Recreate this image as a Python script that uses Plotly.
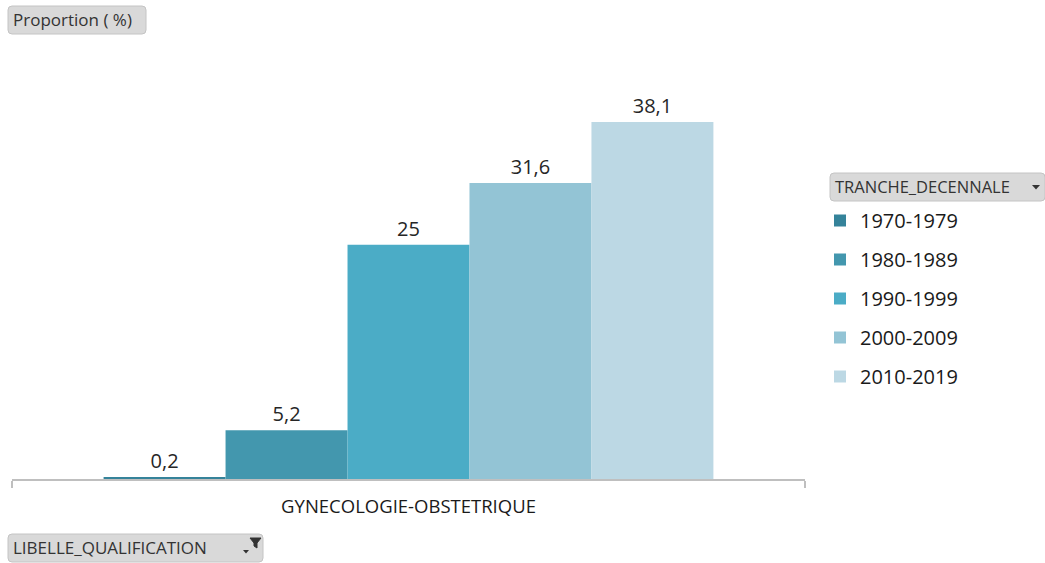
import plotly.graph_objects as go

# Data
categories = ["GYNECOLOGIE-OBSTETRIQUE"]
decades = ["1970-1979", "1980-1989", "1990-1999", "2000-2009", "2010-2019"]
proportions = [0.2, 5.2, 25, 31.6, 38.1]
colors = ["#35839A", "#4397AE", "#4BACC6", "#93C4D5", "#BCD8E4"]

W, H = 1045, 563
ML, MR, MT, MB = 12, 240, 60, 84
PW, PH = W - ML - MR, H - MT - MB
FONT = "Open Sans, Liberation Sans, sans-serif"


def px(x):
    return (x - ML) / PW


def py(y):
    return (H - MB - y) / PH


fig = go.Figure()
for name, val, col in zip(decades, proportions, colors):
    fig.add_trace(go.Bar(
        x=categories, y=[val], name=name,
        marker=dict(color=col, line=dict(width=0)),
        texttemplate="%{y}", textposition="outside",
        textfont=dict(size=20, color="#262626", family=FONT),
        cliponaxis=False,
        legendgroup=name,
    ))

fig.update_layout(
    width=W, height=H,
    barmode="group", bargap=0.231, bargroupgap=0,
    separators=", ",
    paper_bgcolor="white", plot_bgcolor="white",
    margin=dict(l=ML, r=MR, t=MT, b=MB),
    font=dict(family=FONT, color="#262626"),
    showlegend=True,
    legend=dict(
        x=px(820), xanchor="left", xref="paper",
        y=py(201), yanchor="top",
        font=dict(size=20, color="#1a1a1a", family=FONT),
        traceorder="grouped", tracegroupgap=10,
        itemwidth=30, bgcolor="rgba(0,0,0,0)",
    ),
    xaxis=dict(
        range=[-0.5, 0.5], showline=True, linecolor="#BFBFBF", linewidth=1.5,
        ticks="outside", tickson="boundaries", ticklen=7, tickcolor="#BFBFBF",
        tickwidth=1.5, tickfont=dict(size=18.5, color="#1a1a1a", family=FONT),
        ticklabelstandoff=10,
        showgrid=False, zeroline=False, fixedrange=True,
    ),
    yaxis=dict(range=[0, PH / 9.37], visible=False, showgrid=False,
               zeroline=False, fixedrange=True),
)


def rounded_path(x0, y0, x1, y1, r=4):
    pts = [
        f"M {px(x0 + r)},{py(y0)}",
        f"L {px(x1 - r)},{py(y0)}",
        f"Q {px(x1)},{py(y0)} {px(x1)},{py(y0 + r)}",
        f"L {px(x1)},{py(y1 - r)}",
        f"Q {px(x1)},{py(y1)} {px(x1 - r)},{py(y1)}",
        f"L {px(x0 + r)},{py(y1)}",
        f"Q {px(x0)},{py(y1)} {px(x0)},{py(y1 - r)}",
        f"L {px(x0)},{py(y0 + r)}",
        f"Q {px(x0)},{py(y0)} {px(x0 + r)},{py(y0)}",
        "Z",
    ]
    return " ".join(pts)


# Field buttons: grey rounded boxes with labels
def button(x0, y0, x1, y1, label, size=17):
    fig.add_shape(type="path", xref="paper", yref="paper",
                  path=rounded_path(x0, y0, x1, y1),
                  fillcolor="#D9D9D9", line=dict(color="#C4C4C4", width=1),
                  layer="above")
    fig.add_annotation(xref="paper", yref="paper",
                       x=px(x0 + 3), y=py((y0 + y1) / 2 - 1),
                       xanchor="left", yanchor="middle", showarrow=False,
                       text=label, font=dict(size=size, color="#333333", family=FONT))


def tri(x0, x1, ytop, ybot, color="#333333"):
    xm = (x0 + x1) / 2
    fig.add_shape(type="path", xref="paper", yref="paper",
                  path=f"M {px(x0)},{py(ytop)} L {px(x1)},{py(ytop)} L {px(xm)},{py(ybot)} Z",
                  fillcolor=color, line=dict(width=0), layer="above")


button(8, 6, 146, 34, "Proportion ( %)")
button(830, 173, 1045, 201, "TRANCHE_DECENNALE", 16.5)
button(8, 534, 263, 562, "LIBELLE_QUALIFICATION")

# dropdown arrow in the legend-field button
tri(1032, 1040, 185, 189.5)
# sort arrow + funnel in the row-field button
tri(243, 249, 550, 553.5)
fig.add_shape(type="path", xref="paper", yref="paper",
              path=(f"M {px(250)},{py(538)} L {px(261)},{py(538)} L {px(257)},{py(543)} "
                    f"L {px(257)},{py(548)} L {px(254)},{py(546)} L {px(254)},{py(543)} Z"),
              fillcolor="#333333", line=dict(color="#333333", width=1), layer="above")

fig.write_html("out.html")
